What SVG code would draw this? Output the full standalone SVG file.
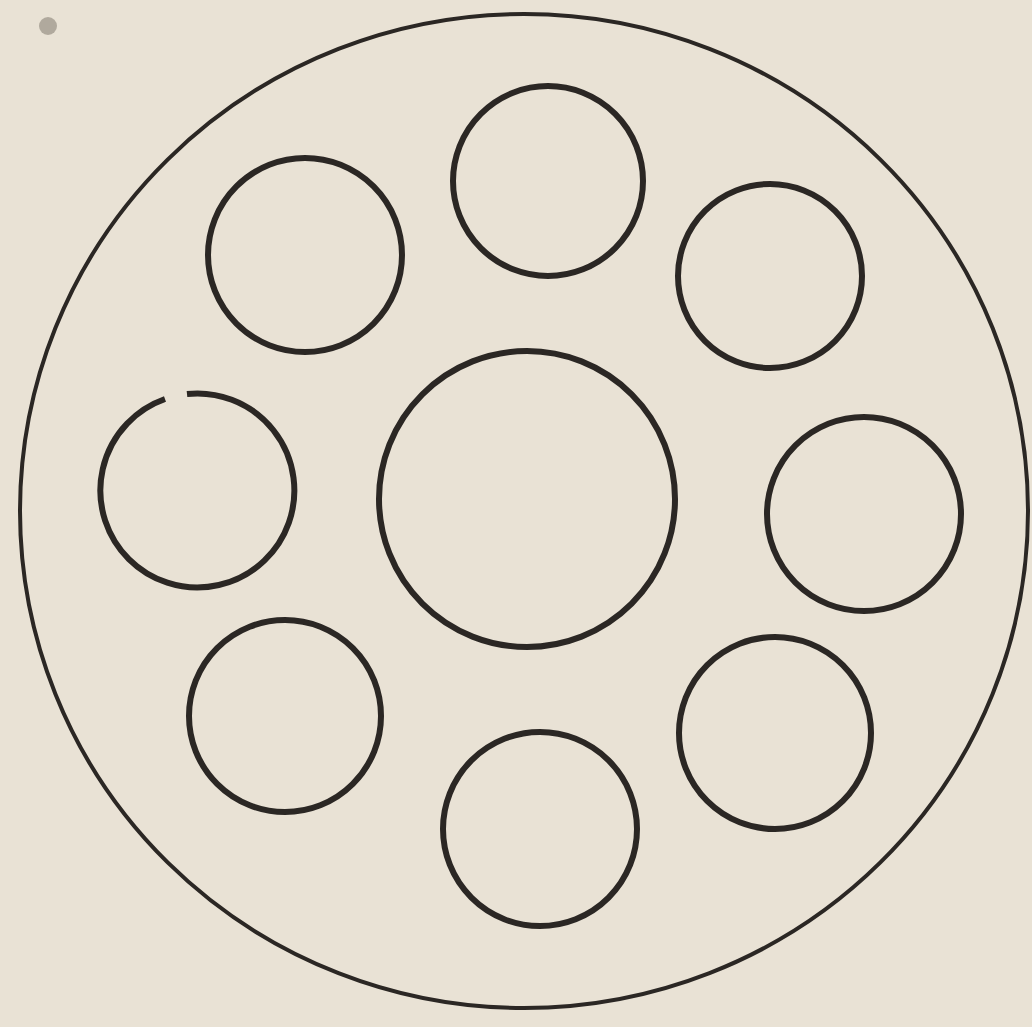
<svg xmlns="http://www.w3.org/2000/svg" width="1032" height="1027" viewBox="0 0 1032 1027">
<style>
.c{fill:none;stroke:#2b2724;stroke-width:6}
.o{fill:none;stroke:#2b2724;stroke-width:4}
</style>
<rect x="0" y="0" width="1032" height="1027" fill="#e9e2d5"/>
<circle cx="48" cy="26" r="9" fill="#8a8378" opacity="0.6"/>
<ellipse class="o" cx="524" cy="511" rx="504" ry="497"/>
<circle class="c" cx="527" cy="499" r="148"/>
<circle class="c" cx="548" cy="181" r="95"/>
<circle class="c" cx="305" cy="255" r="97"/>
<circle class="c" cx="770" cy="276" r="92"/>
<path class="c" d="M 187 394 A 97 97 0 1 1 165 399"/>
<circle class="c" cx="864" cy="514" r="97"/>
<circle class="c" cx="285" cy="716" r="96"/>
<circle class="c" cx="540" cy="829" r="97"/>
<circle class="c" cx="775" cy="733" r="96"/>
</svg>
